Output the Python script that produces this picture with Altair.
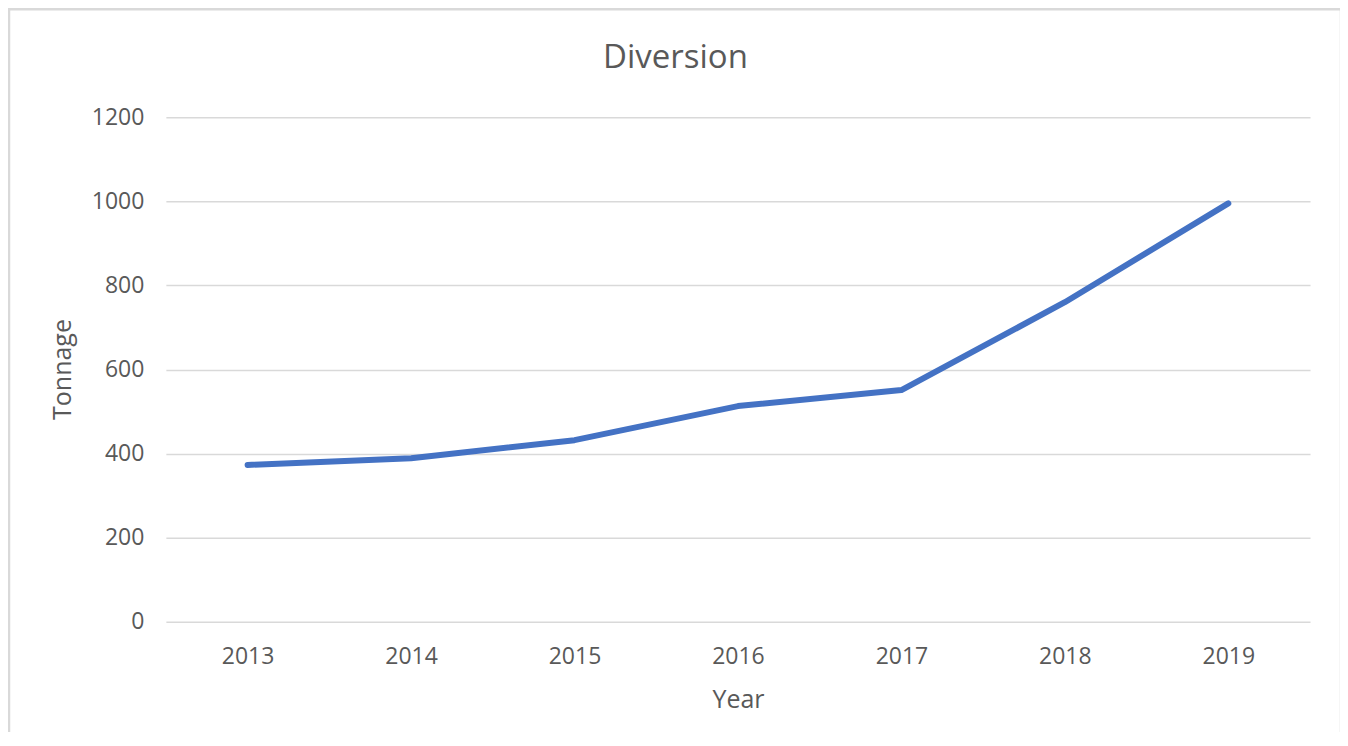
import altair as alt
import pandas as pd

years = ["2013", "2014", "2015", "2016", "2017", "2018", "2019"]
tonnage = [373, 389, 432, 513, 551, 760, 995]
chart_title = "Diversion"

df = pd.DataFrame({"Year": years, "Tonnage": tonnage})

FONT = "Open Sans"
GREY = "#595959"

line = alt.Chart(df).mark_line(
    color="#4472C4", strokeWidth=6, strokeCap="round", strokeJoin="round"
).encode(
    x=alt.X("Year:O", scale=alt.Scale(type="point", padding=0.5),
            axis=alt.Axis(title="Year", labelAngle=0, ticks=False, domain=False,
                          grid=False, labelFontSize=23, labelColor=GREY, labelFont=FONT,
                          labelPadding=24, titleFontSize=25, titleColor=GREY,
                          titleFont=FONT, titleFontWeight="normal",
                          titleY=78, titleBaseline="middle")),
    y=alt.Y("Tonnage:Q", scale=alt.Scale(domain=[0, 1200]),
            axis=alt.Axis(title="Tonnage", values=[0, 200, 400, 600, 800, 1000, 1200],
                          format="d",
                          ticks=False, domain=False, grid=True, gridColor="#d9d9d9",
                          gridWidth=1.5, labelFontSize=23, labelColor=GREY,
                          labelFont=FONT, labelPadding=22, titleFontSize=25,
                          titleColor=GREY, titleFont=FONT, titleFontWeight="normal",
                          titleX=-103, titleY=252, titleAngle=-90,
                          titleAlign="center", titleBaseline="middle")),
)

border = alt.Chart(pd.DataFrame({"a": [0]})).mark_rect(
    fill=None, stroke="#d9d9d9", strokeWidth=2.5
).encode(
    x=alt.value(-157), x2=alt.value(1176), y=alt.value(-108), y2=alt.value(640)
)

title = alt.Chart(pd.DataFrame({"t": [chart_title]})).mark_text(
    fontSize=33, color=GREY, font=FONT, align="center", baseline="alphabetic"
).encode(
    text="t:N", x=alt.value(510), y=alt.value(-49)
)

chart = alt.layer(border, line, title).properties(
    width=1145, height=505,
    autosize=alt.AutoSizeParams(type="none"),
    padding={"left": 158, "top": 109, "right": 30, "bottom": 110},
).configure(background="white").configure_view(stroke=None)

chart.save("out.html", embed_options={"renderer": "svg", "actions": False})
